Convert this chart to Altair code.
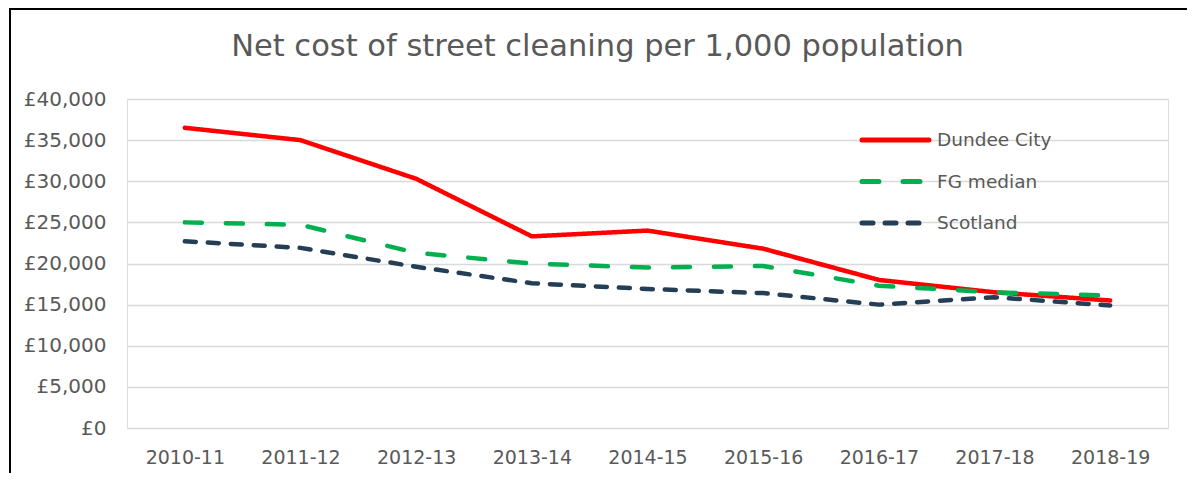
import altair as alt
import pandas as pd

years = ["2010-11", "2011-12", "2012-13", "2013-14", "2014-15",
         "2015-16", "2016-17", "2017-18", "2018-19"]
dundee = [36500, 35000, 30300, 23300, 24000, 21800, 18000, 16500, 15500]
fg_median = [25000, 24700, 21300, 20000, 19500, 19700, 17300, 16500, 16100]
scotland = [22700, 21900, 19600, 17600, 16900, 16400, 15000, 15900, 14900]
series_names = ["Dundee City", "FG median", "Scotland"]
series_colors = ["#FF0000", "#00B050", "#233E55"]
series_dash = [[1, 0], [17, 24], [11, 12]]

rows = []
for name, vals in zip(series_names, [dundee, fg_median, scotland]):
    for y, v in zip(years, vals):
        rows.append({"year": y, "value": v, "series": name})
df = pd.DataFrame(rows)
legend_df = pd.DataFrame({"series": series_names, "row": list(range(len(series_names)))})

FONT = "DejaVu Sans"
GREY = "#595959"

color_enc = alt.Color("series:N", sort=series_names, legend=None,
                      scale=alt.Scale(domain=series_names, range=series_colors))
dash_enc = alt.StrokeDash("series:N", sort=series_names, legend=None,
                          scale=alt.Scale(domain=series_names, range=series_dash))

lines = alt.Chart(df).mark_line(strokeWidth=4.5, strokeCap="round", strokeJoin="round").encode(
    x=alt.X("year:N", sort=years, title=None,
            scale=alt.Scale(paddingInner=1, paddingOuter=0.5),
            axis=alt.Axis(labelAngle=0, ticks=False, domain=False, grid=False,
                          labelFontSize=19, labelColor=GREY, labelFont=FONT,
                          labelPadding=20)),
    y=alt.Y("value:Q", title=None,
            scale=alt.Scale(domain=[0, 40000], nice=False),
            axis=alt.Axis(values=list(range(0, 40001, 5000)), format="$,.0f",
                          ticks=False, domain=False, gridColor="#D9D9D9", gridWidth=1.5,
                          labelFontSize=20, labelColor=GREY, labelFont=FONT,
                          labelPadding=21)),
    color=color_enc,
    strokeDash=dash_enc,
)

leg_y = alt.Y("row:Q", axis=None, title=None,
              scale=alt.Scale(domain=[0, 2], range=[41, 124], nice=False, zero=False))

legend_lines = alt.Chart(legend_df).mark_rule(strokeWidth=5, strokeCap="round").encode(
    x=alt.value(735), x2=alt.value(802), y=leg_y,
    color=color_enc, strokeDash=dash_enc,
)
legend_text = alt.Chart(legend_df).mark_text(
    align="left", baseline="middle", fontSize=18.5, font=FONT, color=GREY
).encode(x=alt.value(810), y=leg_y, text="series:N")

border = alt.Chart(pd.DataFrame({"k": [0]})).mark_rect(
    filled=False, stroke="#000000", strokeWidth=2
).encode(
    x=alt.value(-117), x2=alt.value(2000),
    y=alt.value(-90), y2=alt.value(1000),
)

chart = alt.layer(lines, legend_lines, legend_text, border).resolve_scale(
    y="independent"
).properties(
    width=1041, height=329,
    padding={"left": 119, "top": 91, "right": 19, "bottom": 45},
    autosize=alt.AutoSizeParams(type="none"),
    title=alt.TitleParams("Net cost of street cleaning per 1,000 population",
                          fontSize=30.5, font=FONT, color=GREY, fontWeight="normal",
                          anchor="middle", dx=-50, offset=-78, baseline="alphabetic"),
).configure_view(stroke=None).configure(locale={"number": {"currency": ["£", ""], "decimal": ".", "thousands": ",", "grouping": [3]}})

chart.save("out.html", embed_options={"renderer": "svg", "actions": False})
